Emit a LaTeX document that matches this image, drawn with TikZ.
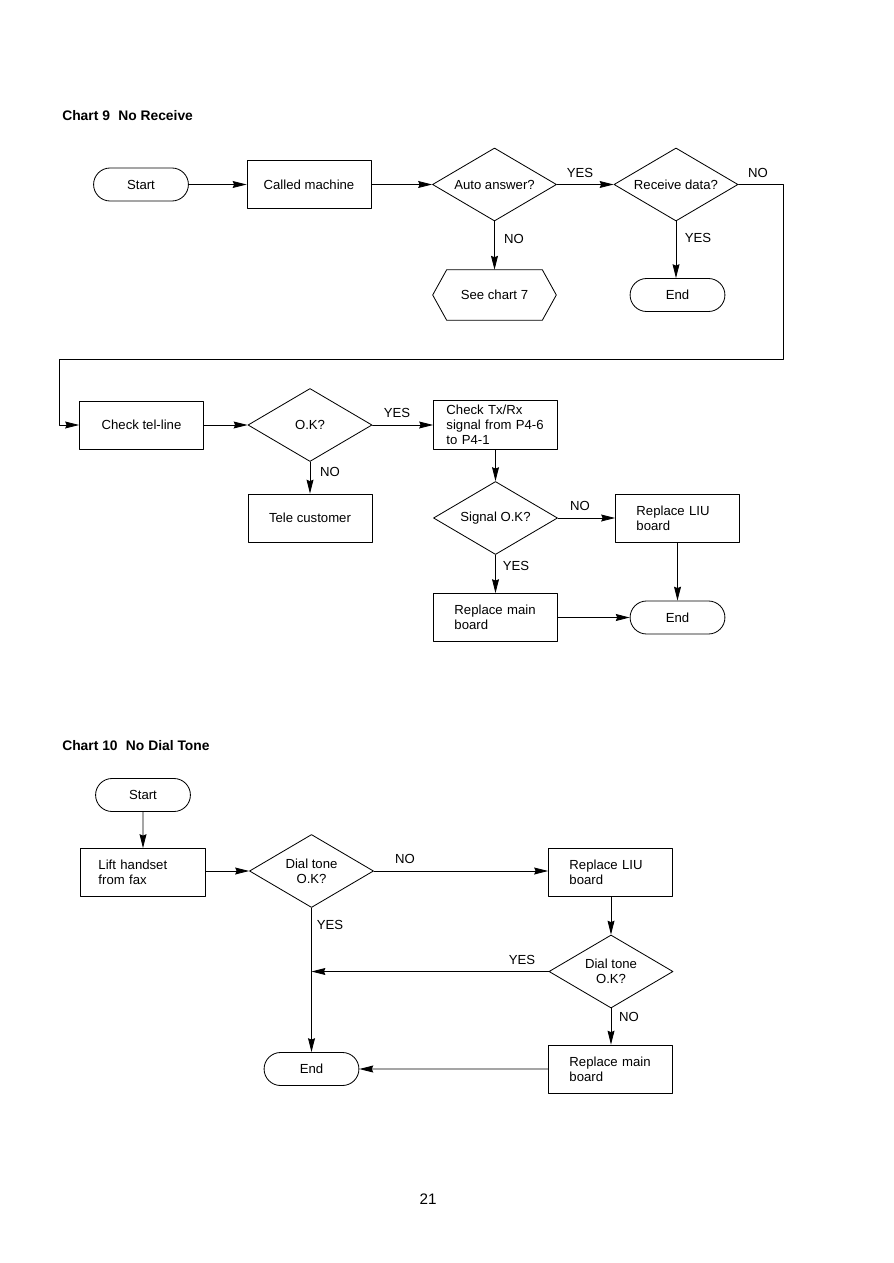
\documentclass[tikz,border=0pt]{standalone}
\usepackage{fontspec}
\setmainfont{Liberation Sans}
\usetikzlibrary{arrows.meta,shapes.geometric,shapes.misc}

\begin{document}
\begin{tikzpicture}[
    x=0.01in,
    y=-0.01in,
    line cap=round,
    line join=round,
    every node/.style={
        font=\fontsize{9.5}{10.8}\selectfont
    },
    termnode/.style={
        draw, line width=0.6pt,
        rounded rectangle,
        minimum width=1.04in,
        minimum height=0.33in
    },
    procbox/.style={
        draw, line width=0.6pt,
        rectangle,
        minimum width=1.24in,
        minimum height=0.48in
    },
    leftbox/.style={
        procbox,
        align=left,
        inner xsep=0.21in,
        text width=0.82in
    },
    decision/.style={
        draw, line width=0.6pt,
        diamond,
        aspect=1.7,
        inner sep=1pt,
        align=center,
        minimum width=1.24in,
        minimum height=0.73in
    },
    hexbox/.style={
        rectangle,
        minimum width=1.23in,
        minimum height=0.50in
    },
    chartttl/.style={
        anchor=west,
        inner sep=0pt,
        font=\fontsize{10}{12}\selectfont\bfseries
    },
    lbl/.style={
        inner sep=0pt
    },
    arr/.style={
        line width=0.6pt,
        -{Stealth[length=10pt,width=5pt,inset=1pt]}
    },
    conn/.style={
        line width=0.6pt
    }
]

\useasboundingbox (0,0) rectangle (893,1263);

% =================================================
% Chart 9
% =================================================

\node[chartttl] (title9) at (62,115.5) {Chart 9\hspace{6pt}No Receive};

% Upper row
\node[termnode] (start9) at (141,184.5) {Start};
\node[procbox]  (called) at (309,184.5) {Called machine};
\node[decision] (auto)   at (494.5,184.5) {Auto answer?};
\node[decision] (recv)   at (676,184.5) {Receive data?};

% Results of the upper row
\node[hexbox]   (seechart) at (494.5,295) {See chart 7};
\draw[conn]
    ([xshift=0.14in]seechart.north west) -- ([xshift=-0.14in]seechart.north east)
    -- (seechart.east)
    -- ([xshift=-0.14in]seechart.south east) -- ([xshift=0.14in]seechart.south west)
    -- (seechart.west) -- cycle;
\node[termnode] (end9a) at (677.5,295) {End};

% Lower rows
\node[procbox]  (tel)  at (141.5,425) {Check tel-line};
\node[decision] (ok)   at (310,425) {O.K?};
\node[leftbox, inner xsep=0.125in, text width=0.98in]
                (txrx) at (495.5,425) {Check Tx/Rx\\signal from P4-6\\to P4-1};
\node[procbox]  (tele) at (310,518) {Tele customer};
\node[decision] (sig)  at (495.5,518) {Signal O.K?};
\node[leftbox]  (liu9) at (677.5,518) {Replace LIU\\board};
\node[leftbox]  (main9) at (495.5,617.5) {Replace main\\board};
\node[termnode] (end9b) at (677.5,617.5) {End};

% Return line from "Receive data?"
\coordinate (loopR) at (783,359);
\coordinate (loopL) at (59,359);

% Connectors
\draw[arr] (start9) -- (called);
\draw[arr] (called) -- (auto);
\draw[arr] (auto) -- (recv);
\draw[arr] (auto) -- (seechart);
\draw[arr] (recv.south) -- (recv.south |- end9a.north);
\draw[arr] (recv.east) -| (loopR) -- (loopL) |- (tel.west);
\draw[arr] (tel) -- (ok);
\draw[arr] (ok) -- (txrx);
\draw[arr] (ok) -- (tele);
\draw[arr] (txrx) -- (sig);
\draw[arr] (sig) -- (liu9);
\draw[arr] (sig) -- (main9);
\draw[arr] (main9) -- (end9b);
\draw[arr] (liu9) -- (end9b);

% Labels
\node[lbl] (yes9a) at (580,173) {YES};
\node[lbl] (no9a)  at (758,173) {NO};
\node[lbl] (no9b)  at (514,239) {NO};
\node[lbl] (yes9b) at (698,238) {YES};
\node[lbl] (yes9c) at (397,413) {YES};
\node[lbl] (no9c)  at (330,472) {NO};
\node[lbl] (no9d)  at (580,506) {NO};
\node[lbl] (yes9d) at (516,566) {YES};

% =================================================
% Chart 10
% =================================================

\node[chartttl] (title10) at (62,745.5) {Chart 10\hspace{6pt}No Dial Tone};

\node[termnode] (start10) at (143,795) {Start};
\node[leftbox, inner xsep=0.18in, text width=0.89in]
                (lift)  at (143,872.5) {Lift handset\\from fax};
\node[decision] (dial1) at (311.5,871) {Dial tone\\O.K?};
\node[leftbox]  (liu10) at (610.5,872) {Replace LIU\\board};
\node[decision] (dial2) at (611,971.5) {Dial tone\\O.K?};
\node[leftbox]  (main10) at (610.5,1069) {Replace main\\board};
\node[termnode] (end10) at (311.5,1069) {End};

% Connectors
\draw[arr] (start10) -- (lift);
\draw[arr] (lift.east |- dial1.west) -- (dial1.west);
\draw[arr] (dial1.east) -- (liu10.west |- dial1.east);
\draw[arr] (dial1) -- (end10);
\draw[arr] (liu10.south -| dial2.north) -- (dial2);
\draw[arr] (dial2.west) -- (dial1 |- dial2.west);
\draw[arr] (dial2) -- (main10.north -| dial2.south);
\draw[arr] (main10) -- (end10);

% Labels
\node[lbl] (no10a)  at (405,859) {NO};
\node[lbl] (yes10a) at (330,925) {YES};
\node[lbl] (yes10b) at (522,960) {YES};
\node[lbl] (no10b)  at (629,1017) {NO};

% Page number
\node[font=\fontsize{11}{13}\selectfont] (pagenum) at (428,1199.5) {21};

\end{tikzpicture}
\end{document}
